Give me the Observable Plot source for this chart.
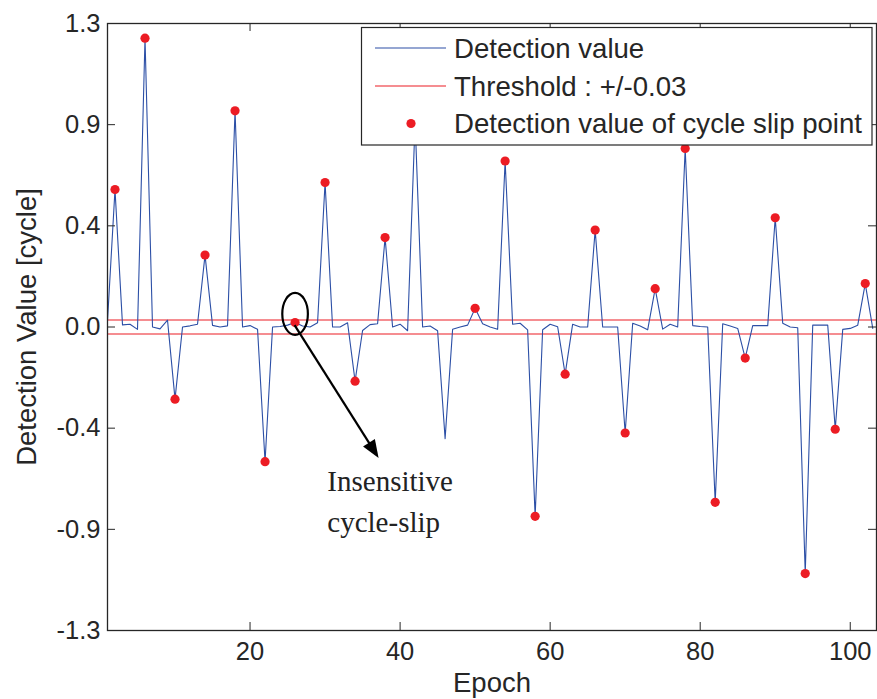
<!DOCTYPE html>
<html><head><meta charset="utf-8">
<script src="https://cdn.jsdelivr.net/npm/d3@7"></script>
<script src="https://cdn.jsdelivr.net/npm/@observablehq/plot@0.6"></script>
<style>
body{margin:0;background:#fff;}
#wrap{position:relative;width:877px;height:699px;overflow:hidden;}
</style></head><body><div id="wrap"></div>
<script>
// Detection value per epoch (epoch 1..103)
const detectionValues = [
  0.026, 0.589, 0.009, 0.012, -0.010, 1.237, 0.000, -0.008, 0.029, -0.309,
  0.000, 0.005, 0.012, 0.308, 0.007, 0.000, 0.005, 0.926, 0.000, 0.006,
  -0.010, -0.577, 0.000, 0.002, 0.008, 0.019, 0.004, 0.000, 0.018, 0.619,
  0.000, 0.000, 0.018, -0.232, -0.015, 0.010, 0.014, 0.383, 0.000, 0.012,
  -0.016, 0.880, 0.000, 0.004, -0.016, -0.478, -0.010, 0.000, 0.008, 0.080,
  0.014, 0.000, -0.010, 0.711, 0.012, 0.016, -0.012, -0.811, -0.012, 0.012,
  0.001, -0.202, 0.012, 0.000, 0.000, 0.415, 0.000, 0.000, 0.000, -0.454,
  0.016, 0.004, -0.012, 0.164, -0.009, 0.012, 0.000, 0.765, 0.006, 0.002,
  0.000, -0.751, 0.014, 0.004, -0.006, -0.133, 0.006, 0.006, 0.006, 0.468,
  0.016, 0.000, -0.003, -1.056, 0.008, 0.008, 0.008, -0.438, -0.010, -0.006,
  0.008, 0.186, -0.006
];
const slipEpochs = [2, 6, 10, 14, 18, 22, 26, 30, 34, 38, 42, 50, 54, 58, 62, 66, 70, 74, 78, 82, 86, 90, 94, 98, 102];
const thresholds = [0.03, -0.03];
const xTicks = [20, 40, 60, 80, 100];
const yTicks = [-1.3, -1.3 * 2 / 3, -1.3 / 3, 0, 1.3 / 3, 1.3 * 2 / 3, 1.3];
const yTickLabels = ["-1.3", "-0.9", "-0.4", "0.0", "0.4", "0.9", "1.3"];
const xLabel = "Epoch";
const yLabel = "Detection Value [cycle]";
const legendLabels = ["Detection value", "Threshold : +/-0.03", "Detection value of cycle slip point"];
const annotationLines = ["Insensitive", "cycle-slip"];
const ellipseAt = [26.07, 0.054];
const arrowFrom = [26.0, 0.006];
const arrowTo = [37.2, -0.563];
const annotationAt = [30.3, -0.578];

const BLUE = "#2c4fa6", RED = "#ec1c24", INK = "#262626";
const W = 877, H = 699, ML = 107, MR = 1, MT = 23, MB = 69;
const FW = W - ML - MR, FH = H - MT - MB;

const series = detectionValues.map((v, i) => ({epoch: i + 1, value: v}));
const slips = slipEpochs.map(e => ({epoch: e, value: detectionValues[e - 1]}));
const yLabelMap = new Map(yTicks.map((t, i) => [t, yTickLabels[i]]));

const ellipseMark = (index, scales) => {
  const {x, y} = scales;
  return d3.create("svg:ellipse")
    .attr("cx", x(ellipseAt[0])).attr("cy", y(ellipseAt[1]))
    .attr("rx", 12.8).attr("ry", 21)
    .attr("fill", "none").attr("stroke", "#000").attr("stroke-width", 2.2).node();
};
const arrowMark = (index, scales) => {
  const {x, y} = scales;
  const sx = x(arrowFrom[0]), sy = y(arrowFrom[1]);
  const tx = x(arrowTo[0]), ty = y(arrowTo[1]);
  const len = Math.hypot(tx - sx, ty - sy);
  const ux = (tx - sx) / len, uy = (ty - sy) / len;
  const L = 18, w = 7;
  const bx = tx - ux * L, by = ty - uy * L;
  const g = d3.create("svg:g");
  g.append("line").attr("x1", sx).attr("y1", sy).attr("x2", bx + ux * 2).attr("y2", by + uy * 2)
    .attr("stroke", "#000").attr("stroke-width", 2.2);
  g.append("polygon")
    .attr("points", [[tx, ty], [bx - uy * w, by + ux * w], [bx + uy * w, by - ux * w]].map(p => p.join(",")).join(" "))
    .attr("fill", "#000");
  return g.node();
};
const legendMark = () => {
  const g = d3.create("svg:g").attr("text-anchor", "start");
  g.append("rect").attr("x", 361.5).attr("y", 27.5).attr("width", 510.5).attr("height", 117.5)
    .attr("fill", "#fff").attr("stroke", INK).attr("stroke-width", 1.2);
  const rows = [48, 86, 123.5];
  g.append("line").attr("x1", 375).attr("x2", 446).attr("y1", rows[0]).attr("y2", rows[0]).attr("stroke", BLUE).attr("stroke-width", 1.1);
  g.append("line").attr("x1", 375).attr("x2", 446).attr("y1", rows[1]).attr("y2", rows[1]).attr("stroke", RED).attr("stroke-width", 1.1);
  g.append("circle").attr("cx", 411).attr("cy", rows[2]).attr("r", 4.6).attr("fill", RED);
  legendLabels.forEach((t, i) => {
    g.append("text").attr("x", 454).attr("y", rows[i]).attr("dy", "0.35em")
      .attr("text-anchor", "start").attr("font-size", 27.6).attr("fill", INK).text(t);
  });
  return g.node();
};

const chart = Plot.plot({
  width: W, height: H,
  marginLeft: ML, marginRight: MR, marginTop: MT, marginBottom: MB,
  style: {fontFamily: "'Liberation Sans', Arial, sans-serif", fontSize: "25px", color: INK, background: "#fff", overflow: "visible"},
  x: {domain: [1, 103.5]},
  y: {domain: [-1.3, 1.3]},
  marks: [
    Plot.ruleY(thresholds, {stroke: RED, strokeWidth: 1.1}),
    Plot.line(series, {x: "epoch", y: "value", stroke: BLUE, strokeWidth: 1.1}),
    Plot.dot(slips, {x: "epoch", y: "value", r: 4.6, fill: RED}),
    ellipseMark,
    arrowMark,
    Plot.text([annotationLines.join("\n")], {x: () => annotationAt[0], y: () => annotationAt[1], text: d => d,
      textAnchor: "start", lineAnchor: "top", lineHeight: 1.42, fontSize: 29, fill: "#222",
      fontFamily: "'Liberation Serif', 'Times New Roman', serif"}),
    // inward ticks (MATLAB box style)
    Plot.tickY(yTicks, {y: d => d, insetRight: FW - 8, stroke: INK}),
    Plot.tickY(yTicks, {y: d => d, insetLeft: FW - 8, stroke: INK}),
    Plot.tickX(xTicks, {x: d => d, insetTop: FH - 8, stroke: INK}),
    Plot.tickX(xTicks, {x: d => d, insetBottom: FH - 8, stroke: INK}),
    Plot.frame({stroke: INK, strokeWidth: 1.3}),
    Plot.axisY({ticks: yTicks, tickFormat: d => yLabelMap.get(d), tickSize: 0, tickPadding: 7, label: null, fontSize: 25.5}),
    Plot.axisX({ticks: xTicks, tickFormat: d => String(d), tickSize: 0, tickPadding: 11, label: null, fontSize: 25.5}),
    Plot.text([xLabel], {text: d => d, frameAnchor: "bottom", dy: 53, lineAnchor: "middle", textAnchor: "middle", fontSize: 27.5}),
    Plot.text([yLabel], {text: d => d, frameAnchor: "left", dx: -80, rotate: -90, lineAnchor: "middle", textAnchor: "middle", fontSize: 27.5}),
    legendMark
  ]
});
document.getElementById("wrap").appendChild(chart);
</script>
</body></html>
